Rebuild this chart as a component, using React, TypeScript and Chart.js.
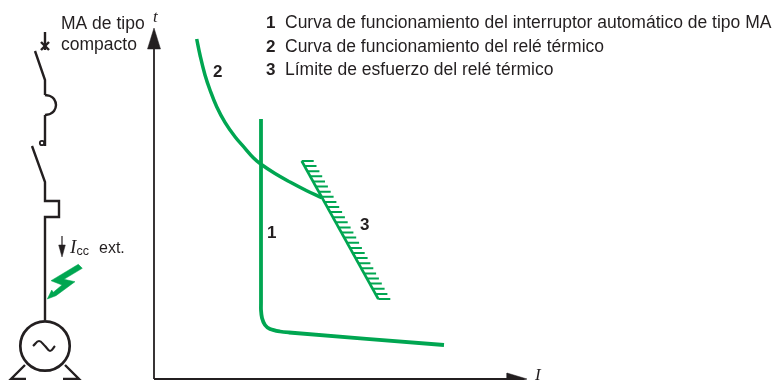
import React, { useEffect, useRef } from "react";
import { Chart, registerables } from "chart.js";

Chart.register(...registerables);

type P = [number, number];

const GREEN = "#00a651";
const INK = "#231f20";

// Curves, in axis units measured from the origin of the I-t axes
const curve1Lower: P[] = [[107, 259], [107, 75], [107, 68], [108, 60], [111, 53], [116, 49], [126, 46.5], [135, 45.5], [290, 33]];
const curve2: P[] = [[42.7, 339], [46, 323], [51, 303], [56, 288], [62.7, 271.3], [71, 255.7], [81, 241.3], [91, 229.7], [99.3, 220.3], [106.7, 214], [121, 204.5], [136, 196], [152.7, 187.3], [167.7, 180.3]];
const limit3: P[] = [[147.7, 217], [224.3, 79]];
const hatchI = [147.7, 150.5, 153.4, 156.2, 159, 161.9, 164.7, 167.6, 170.4, 173.2, 176.1, 178.9, 181.7, 184.6, 187.4, 190.2, 193.1, 195.9, 198.7, 201.6, 204.4, 207.3, 210.1, 212.9, 215.8, 218.6, 221.4, 224.3];
const hatchT = [217, 211.9, 206.8, 201.7, 196.6, 191.5, 186.3, 181.2, 176.1, 171, 165.9, 160.8, 155.7, 150.6, 145.5, 140.4, 135.2, 130.1, 125, 119.9, 114.8, 109.7, 104.6, 99.5, 94.4, 89.2, 84.1, 79];
const HATCH_LENGTH = 12;

// Axes
const axisT: P[] = [[0, -1], [0, 335]];
const axisI: P[] = [[0, -1], [360, -1]];
const arrowT: P[] = [[0, 350], [-6.5, 329], [6.5, 329]];
const arrowI: P[] = [[373, -1], [353, 5], [353, -7]];

// Single-line circuit on the left of the axes
const wireTop: P[] = [[-109, 346], [-109, 328]];
const crossA: P[] = [[-113, 336], [-105, 328]];
const crossB: P[] = [[-105, 336], [-113, 328]];
const blade1: P[] = [[-119, 327], [-109, 298], [-109, 283]];
const thermal: P[] = [[-109, 283], [-104, 282], [-100, 279], [-98, 273], [-100, 267], [-104, 264], [-109, 263]];
const wireMid: P[] = [[-109, 263], [-109, 232]];
const contactLoop: P[] = [[-112, 235]];
const blade2: P[] = [[-122, 232], [-109, 196], [-109, 177], [-95, 177], [-95, 161], [-109, 161], [-109, 58]];
const generator: P[] = [[-109, 32]];
const sine: P[] = [[-121, 32], [-115, 37], [-109, 32], [-104, 27], [-99, 32]];
const footLeft: P[] = [[-128, -1], [-143, -1], [-129, 13]];
const footRight: P[] = [[-89, 13], [-75, -1], [-91, -1]];
const currentLine: P[] = [[-92, 142], [-92, 130]];
const currentHead: P[] = [[-95.3, 133], [-88.7, 133], [-92, 121]];
const bolt: P[] = [[-75.7, 113.7], [-71.7, 109.7], [-90, 98.7], [-79, 96.3], [-98, 82.3], [-106.7, 79], [-102.3, 88], [-100.7, 85.7], [-92, 93], [-103, 97.3]];

// Text labels
const SANS = '"Liberation Sans", Arial, sans-serif';
const SERIF = '"Liberation Serif", serif';
const BODY = `17.5px ${SANS}`;
const KEY = `bold 17px ${SANS}`;
const labels: { text: string; at: P; font: string }[] = [
  { text: "MA de tipo", at: [-93, 349], font: BODY },
  { text: "compacto", at: [-93, 328], font: BODY },
  { text: "t", at: [-1, 356], font: `italic 17px ${SERIF}` },
  { text: "I", at: [381, -2], font: `italic 17px ${SERIF}` },
  { text: "I", at: [-84, 125], font: `italic 19px ${SERIF}` },
  { text: "cc", at: [-77.5, 123], font: `12.5px ${SANS}` },
  { text: "ext.", at: [-55, 125], font: `16px ${SANS}` },
  { text: "1", at: [112, 350], font: KEY },
  { text: "Curva de funcionamiento del interruptor automático de tipo MA", at: [131, 350], font: BODY },
  { text: "2", at: [112, 326], font: KEY },
  { text: "Curva de funcionamiento del relé térmico", at: [131, 326], font: BODY },
  { text: "3", at: [112, 303], font: KEY },
  { text: "Límite de esfuerzo del relé térmico", at: [131, 303], font: BODY },
  { text: "2", at: [59, 301], font: KEY },
  { text: "1", at: [113, 140], font: KEY },
  { text: "3", at: [206, 148], font: KEY },
];

const toXY = (pts: P[]) => pts.map(([x, y]) => ({ x, y }));

const line = (pts: P[], color: string, width: number, tension = 0) => ({
  data: toXY(pts),
  showLine: true,
  borderColor: color,
  backgroundColor: color,
  borderWidth: width,
  tension,
  pointRadius: 0,
  fill: false,
});

const filled = (pts: P[], color: string) => ({
  data: toXY([...pts, pts[0]]),
  showLine: true,
  borderColor: color,
  backgroundColor: color,
  borderWidth: 0.5,
  pointRadius: 0,
  fill: "shape",
});

const ring = (pts: P[], radius: number, width: number) => ({
  data: toXY(pts),
  showLine: false,
  pointRadius: radius,
  pointBackgroundColor: "rgba(0,0,0,0)",
  pointBorderColor: INK,
  pointBorderWidth: width,
});

const hatchData = hatchI.flatMap((I, k) => [
  { x: I, y: hatchT[k] },
  { x: I + HATCH_LENGTH, y: hatchT[k] },
  { x: NaN, y: NaN },
]);

const textPlugin = {
  id: "labelsText",
  afterDatasetsDraw(chart: any) {
    const { ctx, scales } = chart;
    ctx.save();
    ctx.fillStyle = INK;
    ctx.textBaseline = "alphabetic";
    ctx.textAlign = "left";
    for (const l of labels) {
      ctx.font = l.font;
      ctx.fillText(l.text, scales.x.getPixelForValue(l.at[0]), scales.y.getPixelForValue(l.at[1]));
    }
    ctx.restore();
  },
};

export default function App() {
  const ref = useRef<HTMLCanvasElement>(null);
  useEffect(() => {
    document.body.style.margin = "0";
    const chart = new Chart(ref.current as HTMLCanvasElement, {
      type: "scatter",
      data: {
        datasets: [
          line(axisT, INK, 1.8),
          line(axisI, INK, 1.8),
          filled(arrowT, INK),
          filled(arrowI, INK),
          line(wireTop, INK, 2.4),
          line(crossA, INK, 2.4),
          line(crossB, INK, 2.4),
          line(blade1, INK, 2.4),
          line(thermal, INK, 2.4, 0.3),
          line(wireMid, INK, 2.4),
          ring(contactLoop, 2.2, 1.8),
          line(blade2, INK, 2.4),
          ring(generator, 24.7, 2.7),
          line(sine, INK, 2.2, 0.4),
          line(footLeft, INK, 2.4),
          line(footRight, INK, 2.4),
          line(currentLine, INK, 1.2),
          filled(currentHead, INK),
          filled(bolt, GREEN),
          line(curve2, GREEN, 3.5, 0.4),
          line(curve1Lower, GREEN, 3.8, 0.3),
          line(limit3, GREEN, 2.6),
          { ...line([], GREEN, 2), data: hatchData, spanGaps: false },
        ] as any,
      },
      options: {
        responsive: false,
        animation: false,
        layout: { padding: 0, autoPadding: false },
        plugins: { legend: { display: false }, tooltip: { enabled: false } },
        events: [],
        scales: {
          x: { type: "linear", display: false, min: -154, max: 620 },
          y: { type: "linear", display: false, min: -2, max: 378 },
        },
      },
      plugins: [textPlugin],
    });
    return () => chart.destroy();
  }, []);
  return <canvas ref={ref} width={774} height={380} style={{ display: "block" }} />;
}
